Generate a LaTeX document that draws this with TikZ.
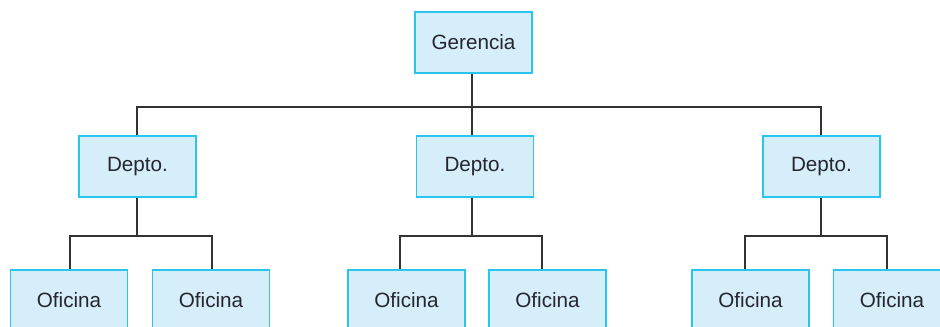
\documentclass[tikz,border=0pt]{standalone}
\usepackage{fontspec}
\setmainfont{Liberation Sans}
\definecolor{boxfill}{HTML}{D5EEFA}
\definecolor{boxline}{HTML}{29C5F0}
\definecolor{linec}{HTML}{333333}
\definecolor{txt}{HTML}{26262F}
\begin{document}
\begin{tikzpicture}[x=0.75pt,y=-0.75pt,
  unit/.style={draw=boxline, fill=boxfill, line width=1.2pt, minimum width=87.75pt, minimum height=45.75pt, inner sep=0pt, font=\fontsize{15.5}{18}\selectfont, text=txt},
  conn/.style={draw=linec, line width=1pt}]
\useasboundingbox (0,0) rectangle (940,326);
\clip (0,0) rectangle (940,326);
% junction points of the connectors
\coordinate (t0) at (472,107);
\coordinate (t1) at (137,107);
\coordinate (t3) at (821,107);
\coordinate (s1) at (137,236);
\coordinate (s2) at (472,236);
\coordinate (s3) at (821,236);
\coordinate (v1) at (70,236);
\coordinate (v2) at (212,236);
\coordinate (v3) at (400,236);
\coordinate (v4) at (542,236);
\coordinate (v5) at (745,236);
\coordinate (v6) at (887,236);
\node[unit] (g) at (473.5,42.5) {Gerencia};
\node[unit] (d1) at (137.5,166.5) {Depto.};
\node[unit] (d2) at (475,166.5) {Depto.};
\node[unit] (d3) at (821.5,166.5) {Depto.};
\node[unit] (o1) at (69,300.5) {Oficina};
\node[unit] (o2) at (211,300.5) {Oficina};
\node[unit] (o3) at (406.5,300.5) {Oficina};
\node[unit] (o4) at (547.5,300.5) {Oficina};
\node[unit] (o5) at (750.5,300.5) {Oficina};
\node[unit] (o6) at (892,300.5) {Oficina};
\draw[conn] (t0 |- g.south) -- (t0);
\draw[conn] (t1 |- d1.north) -- (t1) -- (t3) -- (t3 |- d3.north);
\draw[conn] (t0 |- d2.north) -- (t0);
\draw[conn] (s1 |- d1.south) -- (s1);
\draw[conn] (s2 |- d2.south) -- (s2);
\draw[conn] (s3 |- d3.south) -- (s3);
\draw[conn] (v1 |- o1.north) -- (v1) -- (v2) -- (v2 |- o2.north);
\draw[conn] (v3 |- o3.north) -- (v3) -- (v4) -- (v4 |- o4.north);
\draw[conn] (v5 |- o5.north) -- (v5) -- (v6) -- (v6 |- o6.north);
\end{tikzpicture}
\end{document}
